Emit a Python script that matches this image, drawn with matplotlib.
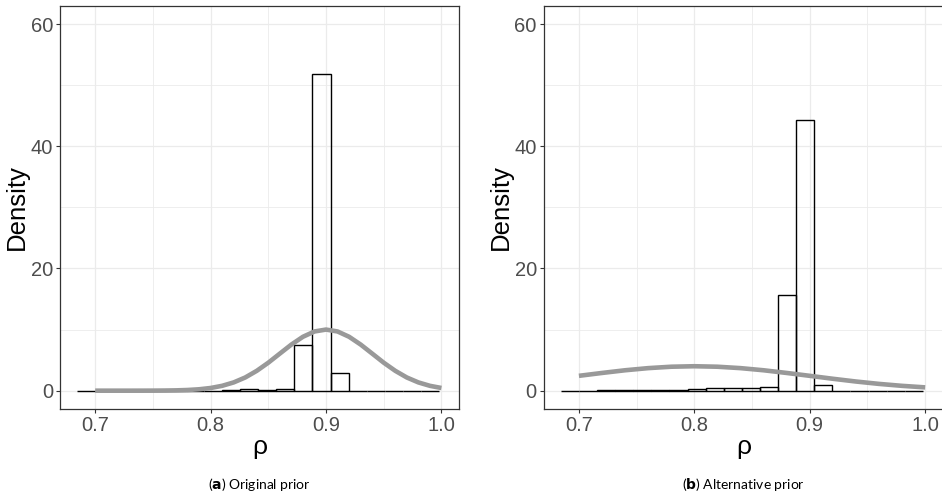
import numpy as np
import matplotlib
matplotlib.use("Agg")
import matplotlib.pyplot as plt
from matplotlib.ticker import MultipleLocator

plt.rcParams['font.family'] = ['Liberation Sans', 'DejaVu Sans']

# histogram bins (20 bins of equal width)
BIN_START = 0.6844
BIN_WIDTH = 0.01568
N_BINS = 20

# posterior density per bin, original prior
hist_a = [0, 0, 0, 0, 0, 0, 0, 0, 0.08, 0.3, 0.15, 0.2, 7.5, 51.85, 2.9,
          0, 0, 0, 0, 0]
# posterior density per bin, alternative prior
hist_b = [0, 0, 0.05, 0.05, 0.1, 0.1, 0.1, 0.28, 0.5, 0.5, 0.4, 0.65, 15.7, 44.3, 1.0,
          0, 0, 0, 0, 0]

# prior curves
prior_a_x = [0.70, 0.71, 0.72, 0.73, 0.74, 0.75, 0.76, 0.77, 0.78, 0.79, 0.80,
             0.81, 0.82, 0.83, 0.84, 0.85, 0.86, 0.87, 0.88, 0.89, 0.90,
             0.91, 0.92, 0.93, 0.94, 0.95, 0.96, 0.97, 0.98, 0.99, 1.00]
prior_a_y = [0.0, 0.0001, 0.0004, 0.0012, 0.0034, 0.0088, 0.022, 0.051, 0.111, 0.228, 0.439,
             0.796, 1.353, 2.16, 3.25, 4.58, 6.07, 7.55, 8.82, 9.69, 10.0,
             9.69, 8.82, 7.55, 6.07, 4.58, 3.25, 2.16, 1.353, 0.796, 0.439]

prior_b_x = [0.70, 0.72, 0.74, 0.76, 0.78, 0.80, 0.82, 0.84, 0.86, 0.88, 0.90,
             0.92, 0.94, 0.96, 0.98, 1.00]
prior_b_y = [2.43, 2.90, 3.34, 3.69, 3.92, 4.0, 3.92, 3.69, 3.34, 2.90, 2.43,
             1.95, 1.50, 1.11, 0.79, 0.54]

captions = [("a", "Original prior"), ("b", "Alternative prior")]

fig = plt.figure(figsize=(9.42, 4.98), dpi=100)
ax_a = fig.add_axes([0.0637, 0.1787, 0.4239, 0.8098])
ax_b = fig.add_axes([0.5772, 0.1787, 0.4239, 0.8098])

edges = BIN_START + BIN_WIDTH * np.arange(N_BINS)

for ax, hist, px, py in [(ax_a, hist_a, prior_a_x, prior_a_y),
                         (ax_b, hist_b, prior_b_x, prior_b_y)]:
    ax.bar(edges, hist, width=BIN_WIDTH, align='edge', fill=False,
           edgecolor='black', linewidth=1.0, zorder=2)
    ax.plot(px, py, color='#999999', linewidth=3.3, solid_capstyle='butt', zorder=3)

    ax.set_xlim(0.6695, 1.0155)
    ax.set_ylim(-3, 63)
    ax.xaxis.set_minor_locator(MultipleLocator(0.05))
    ax.yaxis.set_major_locator(MultipleLocator(20))
    ax.yaxis.set_minor_locator(MultipleLocator(10))
    ax.set_xticks([0.7, 0.8, 0.9, 1.0])
    ax.set_xticklabels(['0.7', '0.8', '0.9', '1.0'])

    ax.grid(which='major', color='#EBEBEB', linewidth=0.9, zorder=0)
    ax.grid(which='minor', color='#EBEBEB', linewidth=0.6, zorder=0)
    ax.set_axisbelow(True)

    ax.tick_params(which='major', length=3, width=0.8, color='#333333',
                   labelsize=14.5, labelcolor='#4D4D4D', pad=2)
    ax.tick_params(which='minor', length=0)
    for sp in ax.spines.values():
        sp.set_color('#333333')
        sp.set_linewidth(0.9)

    ax.set_ylabel('Density', fontsize=18.5, labelpad=1)
    ax.set_xlabel('ρ', fontsize=19, labelpad=0)

# right panel runs past the figure edge
ax_b.spines['right'].set_visible(False)

for ax, (letter, text) in zip([ax_a, ax_b], captions):
    pos = ax.get_position()
    cx = pos.x0 + pos.width / 2
    fig.text(cx, 0.028, f"($\\bf{{{letter}}}$) {text}", ha='center', va='center',
             fontsize=10, family=['Lato', 'DejaVu Sans'])

fig.savefig('out.png', dpi=100)
